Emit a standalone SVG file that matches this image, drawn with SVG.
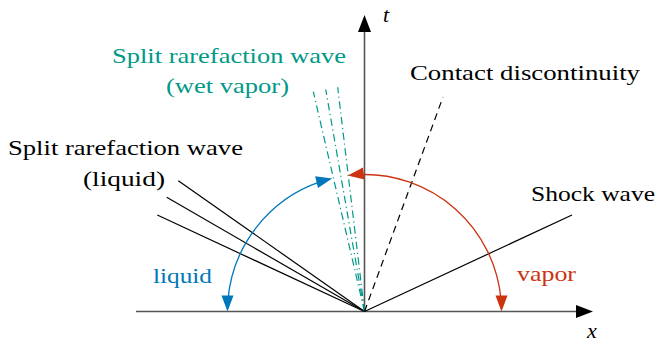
<svg xmlns="http://www.w3.org/2000/svg" width="663" height="348" viewBox="0 0 663 348" font-family="Liberation Serif, DejaVu Serif, serif">
  <style>
    .lbl { font-family: 'Liberation Serif', 'DejaVu Serif', serif; font-size: 22px; }
    .it { font-style: italic; }
    .black { fill: #000; }
    .teal { fill: #009988; }
    .blue { fill: #0077bb; }
    .red { fill: #cc3311; }
    .axis { stroke: #555; stroke-width: 1.6; fill: none; }
    .wave { stroke: #000; stroke-width: 1.2; fill: none; }
    .contact { stroke: #000; stroke-width: 1.2; fill: none; stroke-dasharray: 7 5; }
    .split { stroke: #009988; stroke-width: 1.2; fill: none; stroke-dasharray: 7.5 3.5 1.2 3.5; }
    .arcB { stroke: #0077bb; stroke-width: 1.3; fill: none; }
    .arcR { stroke: #cc3311; stroke-width: 1.3; fill: none; }
  </style>
  <defs>
    <path id="axhead" d="M0,0 L-17,-6.5 L-17,6.5 z" fill="#000"/>
    <path id="arhead" d="M0,0 L-16,-6 L-16,6 z"/>
  </defs>

  <g id="connectors">
    <line id="x-axis" class="axis" x1="136" y1="311.5" x2="577" y2="311.5"/>
    <use href="#axhead" transform="translate(593 311.5)"/>
    <line id="t-axis" class="axis" x1="364.5" y1="311.5" x2="364.5" y2="31"/>
    <use href="#axhead" transform="translate(364.5 15) rotate(-90)"/>
    <line class="wave" x1="364.5" y1="311.5" x2="178.3" y2="180.7"/>
    <line class="wave" x1="364.5" y1="311.5" x2="166.7" y2="197.3"/>
    <line class="wave" x1="364.5" y1="311.5" x2="157.3" y2="215"/>
    <line class="split" x1="364.5" y1="311.5" x2="313.3" y2="91.7"/>
    <line class="split" x1="364.5" y1="311.5" x2="325.7" y2="89.3"/>
    <line class="split" x1="364.5" y1="311.5" x2="337.7" y2="87.3"/>
    <line class="contact" x1="364.5" y1="311.5" x2="443" y2="97"/>
    <line class="wave" x1="364.5" y1="311.5" x2="572" y2="215"/>
    <g id="arc-liquid">
      <path class="arcB" d="M 228.0 299.6 A 137 137 0 0 1 320.6 181.7"/>
      <use href="#arhead" fill="#0077bb" transform="translate(227.5 311.5) rotate(90)"/>
      <use href="#arhead" fill="#0077bb" transform="translate(332.1 178.4) rotate(-13.7)"/>
    </g>
    <g id="arc-vapor">
      <path class="arcR" d="M 359.7 174.6 A 137 137 0 0 1 501.0 299.6"/>
      <use href="#arhead" fill="#cc3311" transform="translate(347.8 175.5) rotate(173)"/>
      <use href="#arhead" fill="#cc3311" transform="translate(501.5 311.5) rotate(90)"/>
    </g>
  </g>

  <g id="label-t"><text class="lbl it black" x="383" y="22">t</text></g>
  <g id="label-x"><text class="lbl it black" x="587" y="338">x</text></g>
  <g id="split-wet-vapor">
    <text class="lbl teal" x="112" y="63" textLength="234" lengthAdjust="spacingAndGlyphs">Split rarefaction wave</text>
    <text class="lbl teal" x="166" y="93" textLength="123" lengthAdjust="spacingAndGlyphs">(wet vapor)</text>
  </g>
  <g id="split-liquid">
    <text class="lbl black" x="8" y="155" textLength="235" lengthAdjust="spacingAndGlyphs">Split rarefaction wave</text>
    <text class="lbl black" x="83" y="186" textLength="82" lengthAdjust="spacingAndGlyphs">(liquid)</text>
  </g>
  <g id="contact-discontinuity">
    <text class="lbl black" x="410" y="80" textLength="230" lengthAdjust="spacingAndGlyphs">Contact discontinuity</text>
  </g>
  <g id="shock-wave">
    <text class="lbl black" x="531" y="201" textLength="124" lengthAdjust="spacingAndGlyphs">Shock wave</text>
  </g>
  <g id="region-liquid">
    <text class="lbl blue" x="153" y="283" textLength="59" lengthAdjust="spacingAndGlyphs">liquid</text>
  </g>
  <g id="region-vapor">
    <text class="lbl red" x="517" y="281" textLength="59" lengthAdjust="spacingAndGlyphs">vapor</text>
  </g>
</svg>
